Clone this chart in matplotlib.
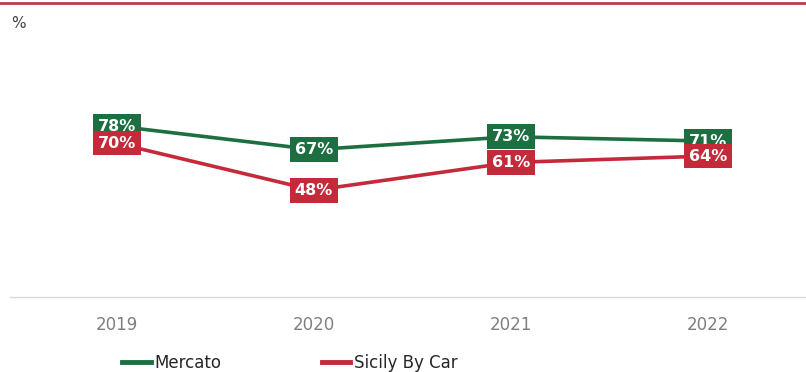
import matplotlib.pyplot as plt
from matplotlib.lines import Line2D

years = ['2019', '2020', '2021', '2022']
mercato = [78, 67, 73, 71]
sicily = [70, 48, 61, 64]

green = '#1d6f42'
red = '#c52a3a'

W, H = 806, 372
fig = plt.figure(figsize=(W / 100, H / 100), dpi=100)

# axes placed in pixel terms: x bands 18..807, bottom rule at row 297
ax = fig.add_axes([18 / W, (H - 297) / H, 789 / W, 218 / H])
x = range(len(years))
ax.plot(x, mercato, color=green, lw=2.6, solid_capstyle='butt', zorder=2)
ax.plot(x, sicily, color=red, lw=2.6, solid_capstyle='butt', zorder=2)

for i, v in enumerate(mercato):
    ax.text(i, v, f'{v}%', ha='center', va='center', color='white',
            fontsize=11.5, fontweight='bold', family='DejaVu Sans', zorder=3,
            bbox=dict(boxstyle='square,pad=0.3', fc=green, ec='none'))
for i, v in enumerate(sicily):
    ax.text(i, v, f'{v}%', ha='center', va='center', color='white',
            fontsize=11.5, fontweight='bold', family='DejaVu Sans', zorder=4,
            bbox=dict(boxstyle='square,pad=0.3', fc=red, ec='none'))

ax.set_xlim(-0.5, 3.5)
ax.set_ylim(-1.87, 100)
ax.set_xticks(list(x))
ax.set_xticklabels(years, color='#7f7f7f', fontsize=12)
ax.tick_params(axis='x', length=0, pad=14)
ax.set_yticks([])
for s in ['top', 'right', 'left']:
    ax.spines[s].set_visible(False)
ax.spines['bottom'].set_color('#d9d9d9')
ax.spines['bottom'].set_linewidth(1)
ax.spines['bottom'].set_bounds(-0.54, 3.5)

# header rule and unit label
fig.add_artist(Line2D([0, 1], [1 - 3 / H, 1 - 3 / H], color='#c0394b', lw=2))
fig.text(18 / W, 1 - 23 / H, '%', fontsize=11, color='#404040',
         ha='center', va='center')

handles = [Line2D([], [], color=green, lw=3.5), Line2D([], [], color=red, lw=3.5)]
fig.legend(handles, ['Mercato', 'Sicily By Car'], loc='center left',
           bbox_to_anchor=(114 / W, 1 - 363 / H), ncol=2, frameon=False,
           fontsize=12, handlelength=1.7, handletextpad=0.25, columnspacing=6.0,
           labelcolor='#262626', borderpad=0)

fig.savefig('out.png', dpi=100)
